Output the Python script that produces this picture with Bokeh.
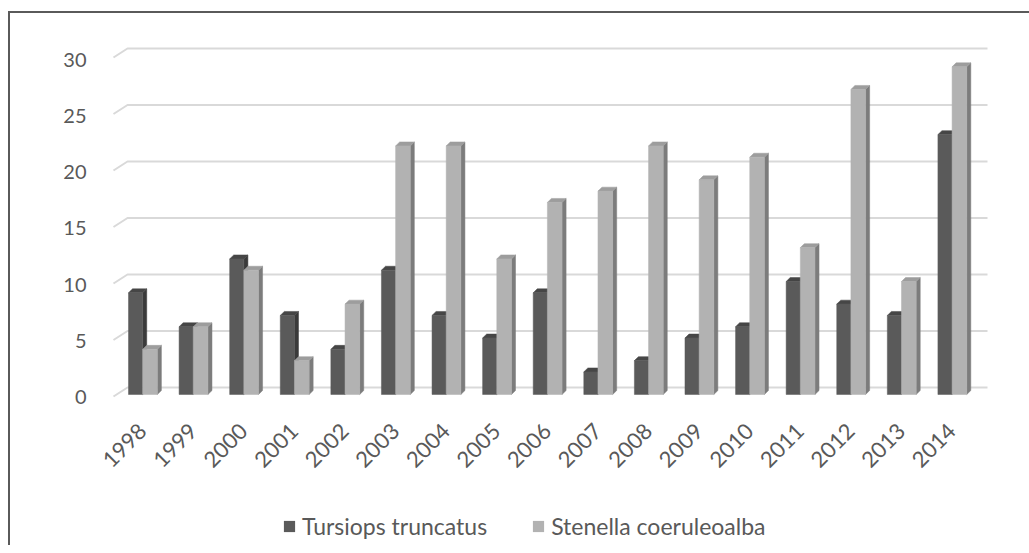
import math
from bokeh.plotting import figure
from bokeh.layouts import column
from bokeh.models import (Range1d, LinearAxis, FixedTicker, Legend, LegendItem,
                          ColumnDataSource)
from bokeh.embed import file_html
from bokeh.resources import INLINE

# ---- data ----
years = ["1998", "1999", "2000", "2001", "2002", "2003", "2004", "2005", "2006",
         "2007", "2008", "2009", "2010", "2011", "2012", "2013", "2014"]
tursiops = [9, 6, 12, 7, 4, 11, 7, 5, 9, 2, 3, 5, 6, 10, 8, 7, 23]
stenella = [4, 6, 11, 3, 8, 22, 22, 12, 17, 18, 22, 19, 21, 13, 27, 10, 29]
y_ticks = [0, 5, 10, 15, 20, 25, 30]
series_names = ["Tursiops truncatus", "Stenella coeruleoalba"]

FONT = "Lato"
TXT = "#595959"
T_COLS = ("#5a5a5a", "#3a3a3a", "#464646")   # front, side, top
S_COLS = ("#b2b2b2", "#7c7c7c", "#9d9d9d")

W = 1019
n = len(years)

p = figure(width=W, height=487, output_backend="svg", toolbar_location=None,
           x_range=Range1d(-0.336, n + 0.336),
           y_range=Range1d(-0.531, 31.327),
           y_axis_location=None,
           min_border_left=100, min_border_right=25, min_border_top=27, min_border_bottom=100,
           background_fill_color="white", border_fill_color="white", outline_line_color=None)
p.grid.visible = False

p.extra_y_ranges = {"front": Range1d(-0.311, 31.689)}

# gridlines (back wall) + diagonal side wall
back = 0.62
front = -0.18
gx, gy = [], []
for v in y_ticks:
    gx.append([-0.277, 0.0, float(n)])
    gy.append([v + front, v + back, v + back])
p.multi_line(gx, gy, line_color="#d9d9d9", line_width=2)

dx, dy = 0.08, 0.35

def bars(values, off0, off1, cols):
    c_front, c_side, c_top = cols
    xs_side, ys_side, xs_top, ys_top = [], [], [], []
    for i, v in enumerate(values):
        x0, x1 = i + off0, i + off1
        xs_side.append([x1, x1 + dx, x1 + dx, x1])
        ys_side.append([0, dy, v + dy, v])
        xs_top.append([x0, x1, x1 + dx, x0 + dx])
        ys_top.append([v, v, v + dy, v + dy])
    p.patches(xs_side, ys_side, fill_color=c_side, line_color=c_side, line_width=0.5)
    p.patches(xs_top, ys_top, fill_color=c_top, line_color=c_top, line_width=0.5)
    src = ColumnDataSource(dict(x=[i + (off0 + off1) / 2 for i in range(len(values))], top=values))
    p.vbar(x="x", top="top", bottom=0, width=off1 - off0, source=src,
           fill_color=c_front, line_color=c_front, line_width=0.5)

bars(tursiops, 0.02, 0.30, T_COLS)
bars(stenella, 0.30, 0.59, S_COLS)

# x axis: one tick per year
tick_pos = [i + 0.3 for i in range(n)]
p.xaxis.ticker = FixedTicker(ticks=tick_pos)
p.xaxis.major_label_overrides = {t: y for t, y in zip(tick_pos, years)}
p.xaxis.axis_line_color = None
p.xaxis.major_tick_line_color = None
p.xaxis.minor_tick_line_color = None
p.xaxis.major_label_orientation = math.pi / 4
p.xaxis.major_label_text_font = FONT
p.xaxis.major_label_text_font_size = "22px"
p.xaxis.major_label_text_color = TXT
p.xaxis.major_label_standoff = 21

yax = LinearAxis(y_range_name="front", ticker=FixedTicker(ticks=y_ticks),
                 axis_line_color=None, major_tick_line_color=None, minor_tick_line_color=None,
                 major_label_text_font=FONT, major_label_text_font_size="20px",
                 major_label_text_color=TXT, major_label_standoff=18)
p.add_layout(yax, "left")

# legend strip
p2 = figure(width=W, height=45, output_backend="svg", toolbar_location=None,
            x_range=Range1d(0, 1), y_range=Range1d(0, 1),
            x_axis_location=None, y_axis_location=None,
            min_border=0, background_fill_color="white", border_fill_color="white",
            outline_line_color=None)
p2.grid.visible = False
l1 = p2.vbar(x=[0.5], top=[0.5], bottom=[0.5], width=0, fill_color=T_COLS[0], line_width=0,
             line_color=T_COLS[0])
l2 = p2.vbar(x=[0.5], top=[0.5], bottom=[0.5], width=0, fill_color=S_COLS[0], line_width=0,
             line_color=S_COLS[0])
legend = Legend(items=[LegendItem(label=series_names[0], renderers=[l1]),
                       LegendItem(label=series_names[1], renderers=[l2])],
                orientation="horizontal", location=(172, 5),
                label_text_font=FONT, label_text_font_size="23px", label_text_color=TXT,
                glyph_width=14, glyph_height=14, label_standoff=6, spacing=44,
                padding=0, margin=0, border_line_color=None, background_fill_alpha=0)
p2.add_layout(legend, "center")

layout = column(p, p2, margin=(11, 0, 0, 8),
                styles={"border-left": "2px solid #5a5a5a", "border-top": "2px solid #5a5a5a"})

open("out.html", "w").write(file_html(layout, INLINE))
